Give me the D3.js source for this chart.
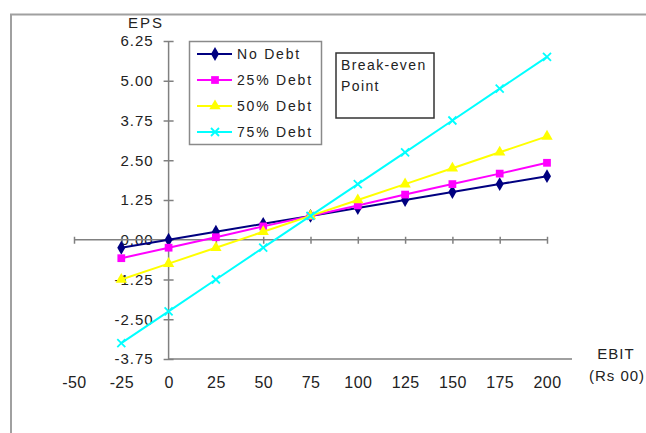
<!DOCTYPE html>
<html>
<head>
<meta charset="utf-8">
<script src="https://cdn.jsdelivr.net/npm/d3@7"></script>
<style>
  html, body { margin: 0; padding: 0; background: #fff; }
  svg { display: block; font-family: "Liberation Sans", Arial, sans-serif; }
</style>
</head>
<body>
<svg id="chart" width="646" height="433"></svg>
<script>
// EBIT levels (Rs 00) and EPS under each financing plan
const ebit = [-25, 0, 25, 50, 75, 100, 125, 150, 175, 200];
const noDebt    = [-0.25, 0.00, 0.25, 0.50, 0.75, 1.00, 1.25, 1.50, 1.75, 2.00];
const debt25    = [-0.58, -0.25, 0.08, 0.42, 0.75, 1.08, 1.42, 1.75, 2.08, 2.42];
const debt50    = [-1.25, -0.75, -0.25, 0.25, 0.75, 1.25, 1.75, 2.25, 2.75, 3.25];
const debt75    = [-3.25, -2.25, -1.25, -0.25, 0.75, 1.75, 2.75, 3.75, 4.75, 5.75];
const seriesNames  = ["No Debt", "25% Debt", "50% Debt", "75% Debt"];
const seriesColors = ["#000080", "#ff00ff", "#ffff00", "#00ffff"];
const seriesMarks  = ["diamond", "square", "triangle", "cross"];
const xTicks = [-50, -25, 0, 25, 50, 75, 100, 125, 150, 175, 200];
const yTicks = [-3.75, -2.50, -1.25, 0.00, 1.25, 2.50, 3.75, 5.00, 6.25];

const allSeries = [noDebt, debt25, debt50, debt75];

// plain hyphen for negative numbers
const fmtY = d => d3.format(".2f")(d).replace("\u2212", "-");
const fmtX = d => d3.format("d")(d).replace("\u2212", "-");

const svg = d3.select("#chart");
const x = d3.scaleLinear().domain([-50, 200]).range([74, 547]);
const y = d3.scaleLinear().domain([-3.75, 6.25]).range([359, 41]);

// outer chart frame (top and left edges)
svg.append("path")
  .attr("d", "M11,434 L11,14.5 L647,14.5")
  .attr("fill", "none").attr("stroke", "#a0a0a0").attr("stroke-width", 2);

// plot floor
svg.append("line")
  .attr("x1", x(0)).attr("x2", 572).attr("y1", y(-3.75)).attr("y2", y(-3.75))
  .attr("stroke", "#808080").attr("stroke-width", 1.5);

// vertical EPS axis
const yAxis = svg.append("g")
  .attr("transform", `translate(${x(0)},0)`)
  .call(d3.axisLeft(y).tickValues(yTicks).tickFormat(fmtY).tickSize(5).tickPadding(10));
yAxis.select(".domain").attr("stroke", "#808080").attr("stroke-width", 1.5).attr("d", `M0,${y(6.25)}V${y(-3.75)}`);
yAxis.selectAll(".tick line").attr("x1", -5).attr("x2", 5).attr("stroke", "#808080").attr("stroke-width", 1.5);
yAxis.selectAll(".tick text")
  .attr("fill", "#222").style("font-size", "15px").style("letter-spacing", "1px")
  .style("font-family", "'Liberation Sans', Arial, sans-serif");

// horizontal EBIT axis through zero
const xAxis = svg.append("g")
  .attr("transform", `translate(0,${y(0)})`)
  .call(d3.axisBottom(x).tickValues(xTicks).tickFormat("").tickSize(4));
xAxis.select(".domain").attr("stroke", "#808080").attr("stroke-width", 1.5).attr("d", `M${x(-50)},0H${x(200)}`);
xAxis.selectAll(".tick line").attr("y1", -3).attr("y2", 4).attr("stroke", "#808080").attr("stroke-width", 1.5);

// EBIT category labels beneath the plot
const xLabels = svg.append("g")
  .attr("transform", `translate(0,${y(-3.75)})`)
  .call(d3.axisBottom(x).tickValues(xTicks).tickFormat(fmtX).tickSize(0).tickPadding(18));
xLabels.select(".domain").remove();
xLabels.selectAll(".tick text")
  .attr("fill", "#222").style("font-size", "16px").style("letter-spacing", "0.4px")
  .style("font-family", "'Liberation Sans', Arial, sans-serif");

// marker shapes
function marker(sel, kind, color) {
  if (kind === "cross") {
    sel.append("path").attr("d", "M-4,-4L4,4M-4,4L4,-4")
      .attr("stroke", color).attr("stroke-width", 1.8).attr("fill", "none");
  } else {
    const type = kind === "diamond" ? d3.symbolDiamond : kind === "square" ? d3.symbolSquare : d3.symbolTriangle;
    const size = kind === "diamond" ? 56 : kind === "square" ? 60 : 56;
    sel.append("path").attr("d", d3.symbol().type(type).size(size)()).attr("fill", color);
  }
}

const line = d3.line().x((d, i) => x(ebit[i])).y(d => y(d));
allSeries.forEach((vals, s) => {
  const g = svg.append("g");
  g.append("path").datum(vals)
    .attr("d", line).attr("fill", "none")
    .attr("stroke", seriesColors[s]).attr("stroke-width", 2);
  vals.forEach((v, i) => {
    const m = g.append("g").attr("transform", `translate(${x(ebit[i])},${y(v)})`);
    marker(m, seriesMarks[s], seriesColors[s]);
  });
});

// legend
const legend = svg.append("g");
legend.append("rect").attr("x", 189.5).attr("y", 41.5).attr("width", 132).attr("height", 103)
  .attr("fill", "#fff").attr("stroke", "#8a8a8a").attr("stroke-width", 1.5);
seriesNames.forEach((name, s) => {
  const ly = 54 + s * 26;
  legend.append("line").attr("x1", 197).attr("x2", 232).attr("y1", ly).attr("y2", ly)
    .attr("stroke", seriesColors[s]).attr("stroke-width", 2);
  marker(legend.append("g").attr("transform", `translate(215,${ly})`), seriesMarks[s], seriesColors[s]);
  legend.append("text").attr("x", 237).attr("y", ly + 5)
    .attr("fill", "#222").style("font-size", "14px").style("letter-spacing", "1.8px")
    .text(name);
});

// break-even note
svg.append("rect").attr("x", 336).attr("y", 53).attr("width", 98).attr("height", 65)
  .attr("fill", "#fff").attr("stroke", "#333").attr("stroke-width", 1.5);
svg.append("text").attr("x", 341).attr("y", 70).attr("fill", "#222")
  .style("font-size", "14px").style("letter-spacing", "1.4px").text("Break-even");
svg.append("text").attr("x", 341).attr("y", 91).attr("fill", "#222")
  .style("font-size", "14px").style("letter-spacing", "1.4px").text("Point");

// axis titles
svg.append("text").attr("x", 128).attr("y", 28).attr("fill", "#222")
  .style("font-size", "15px").style("letter-spacing", "2px").text("EPS");
svg.append("text").attr("x", 616).attr("y", 359).attr("text-anchor", "middle").attr("fill", "#222")
  .style("font-size", "15px").style("letter-spacing", "1px").text("EBIT");
svg.append("text").attr("x", 617).attr("y", 381).attr("text-anchor", "middle").attr("fill", "#222")
  .style("font-size", "15px").style("letter-spacing", "1px").text("(Rs 00)");
</script>
</body>
</html>
